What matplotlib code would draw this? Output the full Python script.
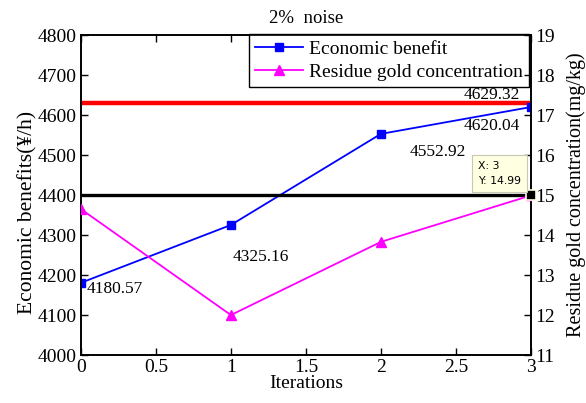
import matplotlib
matplotlib.use("Agg")
import matplotlib.pyplot as plt

iterations = [0, 1, 2, 3]
benefit = [4180.57, 4325.16, 4552.92, 4620.04]
residue = [14.65, 12.0, 13.83, 14.99]
benefit_limit = 4629.32
residue_limit = 15.0
benefit_ticks = [4000, 4100, 4200, 4300, 4400, 4500, 4600, 4700, 4800]
residue_ticks = [11, 12, 13, 14, 15, 16, 17, 18, 19]
x_ticks = [0, 0.5, 1, 1.5, 2, 2.5, 3]
x_tick_labels = ["0", "0.5", "1", "1.5", "2", "2.5", "3"]

plt.rcParams["font.family"] = ["Liberation Serif", "DejaVu Serif"]
plt.rcParams["mathtext.fontset"] = "stix"

fig = plt.figure(figsize=(5.86, 4.03), dpi=100)
ax = fig.add_axes([0.138, 0.119, 0.768, 0.794])
ax2 = ax.twinx()

fs = 14
afs = 12.5

# horizontal limit lines
ax.axhline(benefit_limit, color="red", lw=3.2, zorder=2)
ax2.axhline(residue_limit, color="black", lw=2.4, zorder=2)

l1, = ax.plot(iterations, benefit, color="blue", lw=1.3, marker="s",
              ms=5.5, label="Economic benefit", zorder=3)
l2, = ax2.plot(iterations, residue, color="magenta", lw=1.3, marker="^",
               ms=7, label="Residue gold concentration", zorder=3)

ax.set_xlim(0, 3)
ax.set_ylim(4000, 4800)
ax2.set_ylim(11, 19)
ax.set_xticks(x_ticks)
ax.set_xticklabels(x_tick_labels)
ax.set_yticks(benefit_ticks)
ax2.set_yticks(residue_ticks)

for a in (ax, ax2):
    a.tick_params(direction="in", labelsize=fs, length=5, width=1, pad=3)
    for s in a.spines.values():
        s.set_linewidth(1.2)
ax.tick_params(axis="x", top=True)

ax.set_xlabel("Iterations", fontsize=14, labelpad=-1)
ax.set_ylabel("Economic benefits(\u00a5/h)", fontsize=15.5)
ax.yaxis.set_label_coords(-0.097, 0.445)
ax2.set_ylabel("Residue gold concentration(mg/kg)", fontsize=14.5, rotation=90)
ax2.yaxis.set_label_coords(1.079, 0.5)
ax.set_title("2%  noise", fontsize=13.5, pad=9)

# value labels
def label(x, y, s, dx, dy, ha="left", va="center"):
    ax.annotate(s, xy=(x, y), xytext=(dx, dy), textcoords="offset points",
                fontsize=afs, ha=ha, va=va)

label(0, benefit[0], "4180.57", 4, -4.5)
label(1, benefit[1], "4325.16", 1, -23)
label(2, benefit[2], "4552.92", 21, -13)
label(3, benefit[3], "4620.04", -8, -14, ha="right")
label(3, benefit_limit, "4629.32", -8, 6, ha="right")

# data tip
ax2.plot([3], [residue[3]], marker="s", color="black", ms=7, mec="#ffffe1",
         mew=1.2, clip_on=False, zorder=6)
ax2.annotate("X: 3\nY: 14.99", xy=(3, residue[3]), xytext=(-7, 7),
             textcoords="offset points", fontsize=7.8, family="DejaVu Sans",
             va="bottom", ha="right", multialignment="left", linespacing=1.6,
             bbox=dict(boxstyle="square,pad=0.55", fc="#ffffe1", ec="#c8c8b4", lw=0.8),
             zorder=7)

leg = ax.legend(handles=[l1, l2], loc="upper right", fontsize=fs,
                bbox_to_anchor=(0.995, 1.003), fancybox=False, framealpha=1,
                edgecolor="black", borderpad=0.3, labelspacing=0.3,
                handlelength=2.5, handletextpad=0.3, borderaxespad=0)
leg.get_frame().set_linewidth(1.0)
leg.set_zorder(10)

fig.savefig("out.png", dpi=100)
